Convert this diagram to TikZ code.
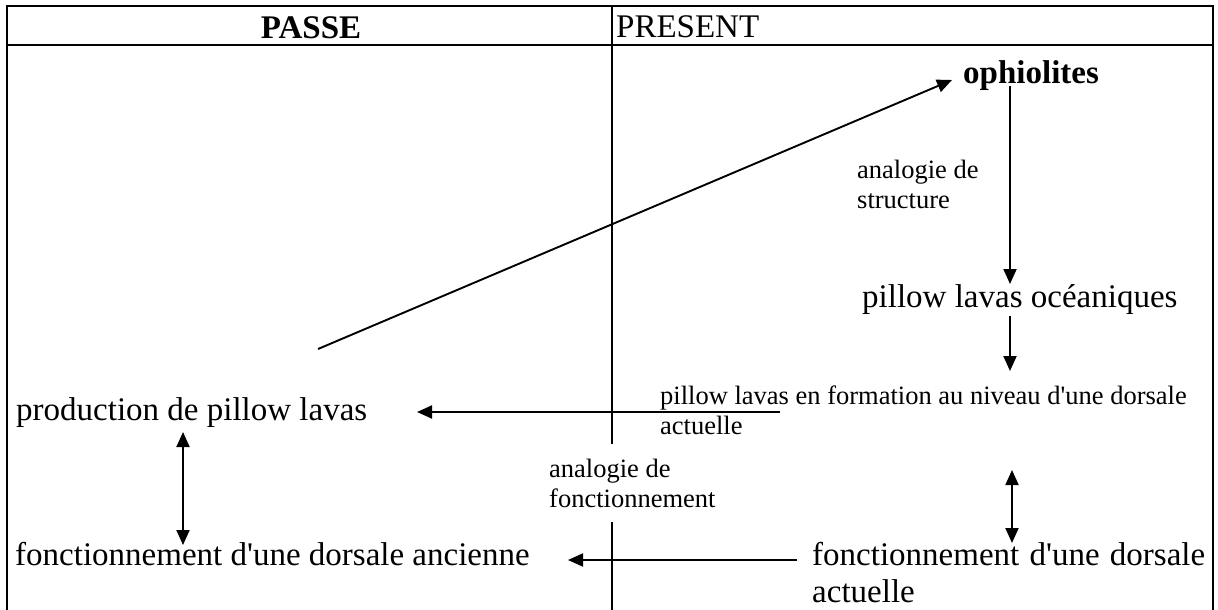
\documentclass[tikz,border=0pt]{standalone}
\usepackage{fontspec}
\setmainfont{Liberation Serif}[Ligatures=TeXOff]
\usetikzlibrary{arrows.meta}
\begin{document}
\begin{tikzpicture}[x=1pt,y=-1pt,
  frame/.style={line width=2.6pt},
  divider/.style={line width=2.2pt},
  conn/.style={line width=1.9pt,-{Triangle[length=15pt,width=13pt]}},
  dconn/.style={line width=1.9pt,{Triangle[length=15pt,width=13pt]}-{Triangle[length=15pt,width=13pt]}},
  big/.style={font=\fontsize{33}{37}\selectfont, inner sep=0pt, anchor=base west, align=left},
  bigbold/.style={font=\fontsize{33}{37}\selectfont\bfseries, inner sep=0pt, anchor=base west},
  small/.style={font=\fontsize{26.5}{30}\selectfont, inner sep=0pt, anchor=base west, align=left}]
\useasboundingbox (0,0) rectangle (1218,610);
% table frame
\draw[frame] (7,610) -- (7,6) -- (1213,6) -- (1213,610);
\draw[frame] (7,45) -- (1213,45);
\draw[frame] (612,6) -- (612,45);
\draw[divider] (612,45) -- (612,444);
\draw[divider] (612,522) -- (612,610);
% headers
\node[bigbold, anchor=base] (passe) at (311,39) {PASSE};
\node[big] (present) at (616,38) {PRESENT};
% texts (multi-line nodes: base = last line)
\node[bigbold] (ophio) at (963,83) {ophiolites};
\node[small] (anastruct) at (857,208) {analogie de\\structure};
\node[big] (plo) at (862,307) {pillow lavas océaniques};
\node[small] (plf) at (660,434) {pillow lavas en formation au niveau d'une dorsale\\actuelle};
\node[big] (prod) at (16,420) {production de pillow lavas};
\node[small] (anafonc) at (549,507) {analogie de\\fonctionnement};
\node[big] (fda) at (15,565) {fonctionnement d'une dorsale ancienne};
\node[big, text width=393pt, align=justify] (fdact) at (812,565) {\hyphenpenalty=10000 fonctionnement d'une dorsale actuelle};
% connector end points
\coordinate (c1s) at (318,349);
\coordinate (c1e) at (952,80);
\coordinate (c2s) at (1010,86);
\coordinate (c2e) at (1010,284);
\coordinate (c3s) at (1010,316);
\coordinate (c3e) at (1010,371);
\coordinate (c4s) at (780,412);
\coordinate (c4e) at (417,412);
\coordinate (c5s) at (183,432);
\coordinate (c5e) at (183,545);
\coordinate (c6s) at (1012,470);
\coordinate (c6e) at (1012,543);
\coordinate (c7s) at (797,560);
\coordinate (c7e) at (568,560);
% connectors
\draw[conn] (c1s) -- (c1e);
\draw[conn] (c2s) -- (c2e);
\draw[conn] (c3s) -- (c3e);
\draw[conn] (c4s) -- (c4e);
\draw[dconn] (c5s) -- (c5e);
\draw[dconn] (c6s) -- (c6e);
\draw[conn] (c7s) -- (c7e);
\end{tikzpicture}
\end{document}
